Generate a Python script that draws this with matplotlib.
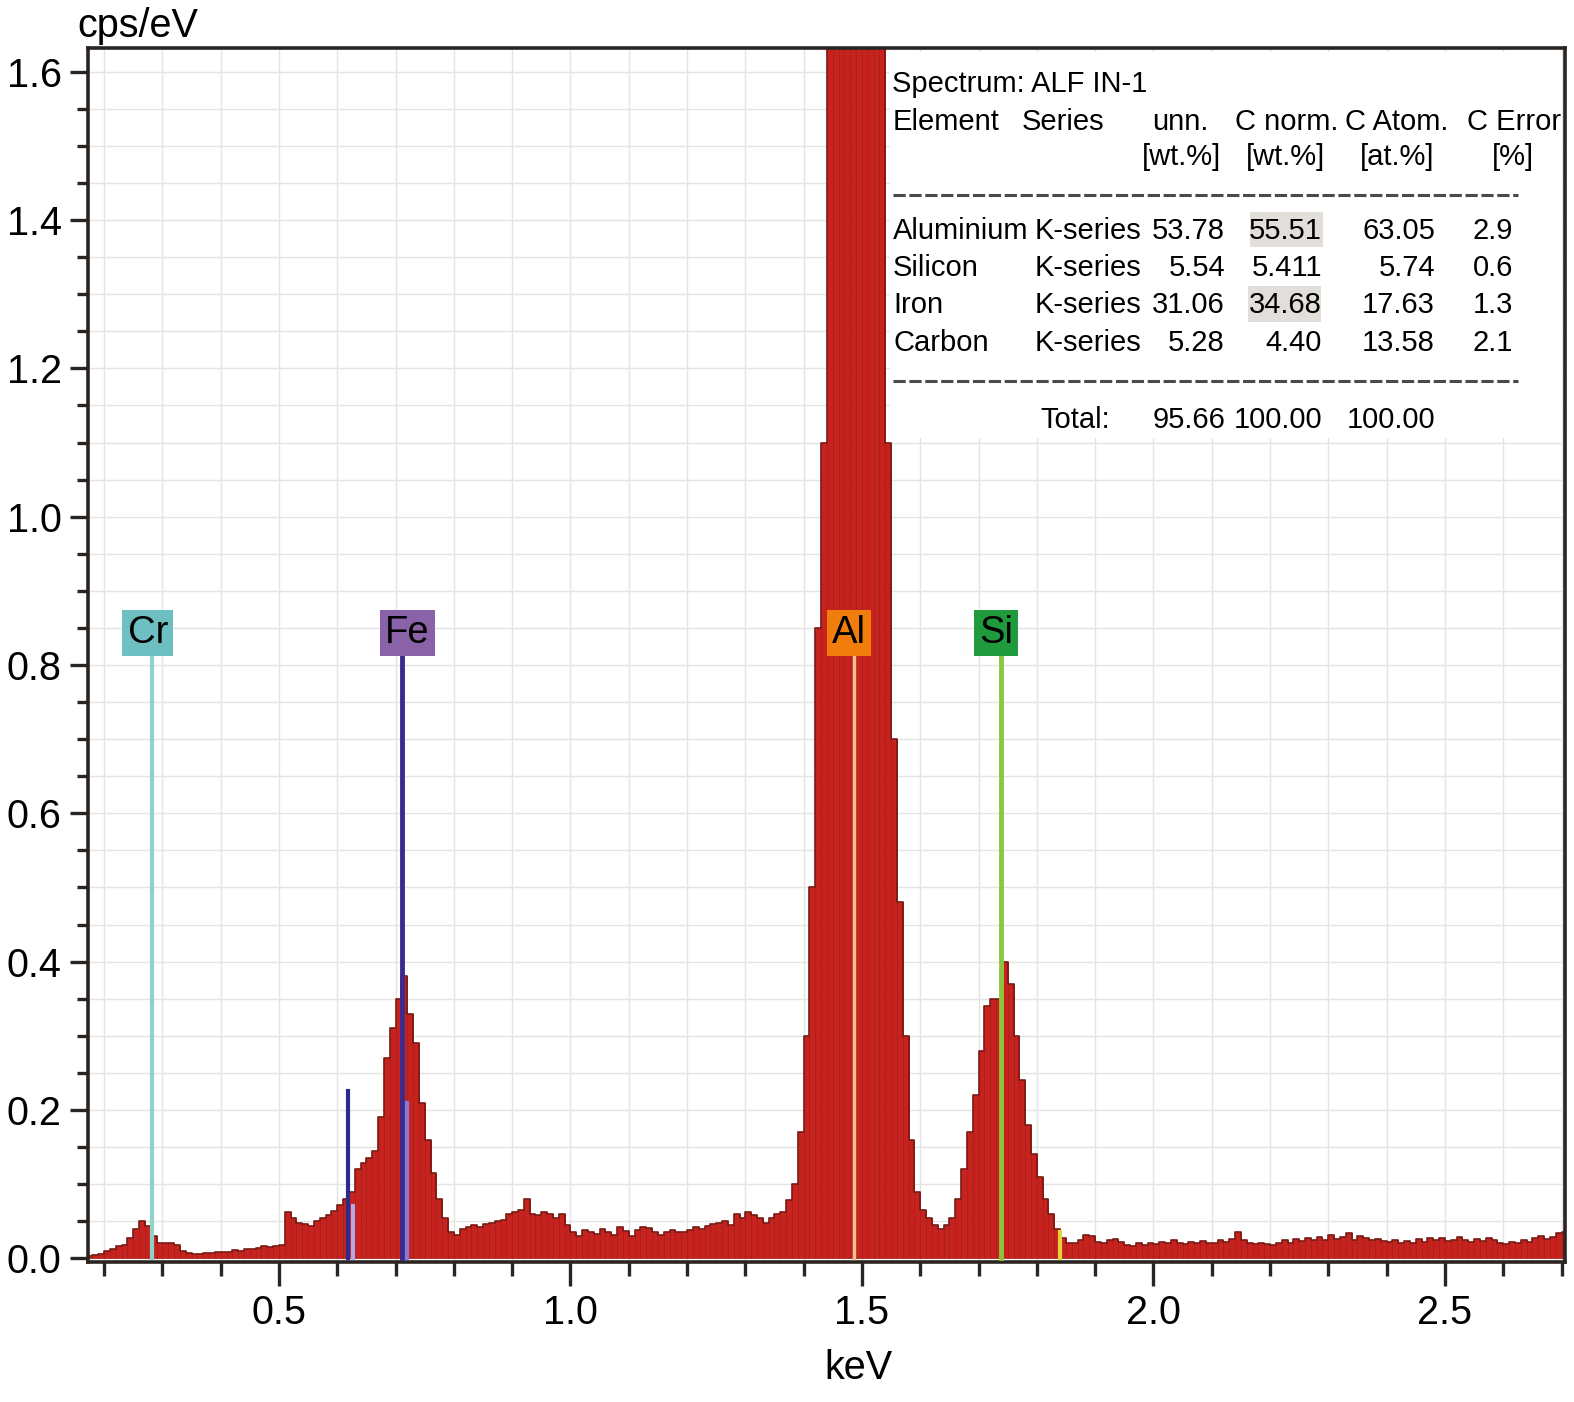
import numpy as np
import matplotlib
matplotlib.use("Agg")
import matplotlib.pyplot as plt
from matplotlib.patches import Rectangle
from matplotlib.lines import Line2D

plt.rcParams['font.family'] = ['Liberation Sans', 'DejaVu Sans']

# ---------------- data ----------------
BIN = 0.01
# spectrum counts (cps/eV), 0.01 keV bins, each segment with its start energy
low_start = 0.17
low_counts = [0.003, 0.004, 0.006, 0.010, 0.013, 0.016, 0.018, 0.028, 0.040, 0.050,
              0.044, 0.030, 0.020, 0.021, 0.021, 0.018, 0.010, 0.007, 0.006, 0.006,
              0.007, 0.007, 0.008, 0.009, 0.009, 0.011, 0.010, 0.013, 0.012, 0.014,
              0.016, 0.015, 0.017, 0.018,                       # 0.17 - 0.50
              0.063, 0.055, 0.047, 0.046, 0.043, 0.050, 0.054, 0.058, 0.064, 0.072,
              0.080, 0.090, 0.120, 0.128, 0.135, 0.145, 0.190, 0.270, 0.310, 0.350,
              0.380, 0.330, 0.290, 0.210, 0.160, 0.115, 0.080, 0.055, 0.035, 0.032,
              0.040, 0.042, 0.045, 0.042, 0.046, 0.048, 0.050, 0.052, 0.060, 0.062,
              0.065, 0.080, 0.060, 0.058, 0.063, 0.060, 0.055, 0.060, 0.045]  # 0.51 - 0.99
mid_start = 1.00
mid_counts = [0.035, 0.030, 0.038, 0.035, 0.033, 0.040, 0.036, 0.032, 0.042, 0.037,
              0.030, 0.038, 0.042, 0.041, 0.035, 0.032, 0.036, 0.038, 0.036, 0.035,
              0.038, 0.042, 0.040, 0.044, 0.046, 0.048, 0.050, 0.045, 0.060, 0.055,
              0.062, 0.058, 0.054, 0.048, 0.055, 0.060, 0.062]  # 1.00 - 1.36
peak_start = 1.37
peak_counts = [0.078, 0.100, 0.170, 0.300, 0.500, 0.850, 1.100,
               1.700, 1.700, 1.700, 1.700, 1.700, 1.700, 1.700, 1.700, 1.700, 1.700,
               1.100, 0.700, 0.480, 0.300, 0.160, 0.090, 0.065, 0.055, 0.045, 0.040,
               0.045, 0.055, 0.080, 0.120, 0.170, 0.220, 0.280, 0.340, 0.350, 0.350,
               0.400, 0.370, 0.300, 0.240, 0.180, 0.140, 0.110, 0.080, 0.060, 0.040,
               0.028, 0.020, 0.020, 0.025, 0.032, 0.030, 0.022, 0.020]  # 1.37 - 1.91
tail_start = 1.92
tail_counts = [0.024, 0.026, 0.022, 0.018, 0.016, 0.020, 0.018, 0.021, 0.019, 0.022,
               0.020, 0.024, 0.021, 0.019, 0.022, 0.020, 0.023, 0.021, 0.020, 0.024,
               0.022, 0.026, 0.035, 0.024, 0.020, 0.019, 0.020, 0.019, 0.018, 0.020,
               0.024, 0.021, 0.026, 0.023, 0.027, 0.024, 0.029, 0.025, 0.032, 0.026,
               0.029, 0.034, 0.025, 0.030, 0.027, 0.024, 0.026, 0.023, 0.022, 0.025,
               0.021, 0.023, 0.020, 0.026, 0.022, 0.028, 0.024, 0.027, 0.023, 0.025,
               0.029, 0.024, 0.022, 0.026, 0.023, 0.028, 0.024, 0.021, 0.019, 0.022,
               0.020, 0.025, 0.022, 0.027, 0.030, 0.026, 0.029, 0.034, 0.036]  # 1.92 - 2.70

# element markers
elements = ['Cr', 'Fe', 'Al', 'Si']
element_line_keV = [0.282, 0.711, 1.486, 1.739]
element_label_keV = [0.275, 0.720, 1.478, 1.730]
element_box_colors = ['#6dbfc2', '#8a62a8', '#f07d0c', '#1f9a3d']
element_line_colors = ['#8fd2c9', '#3b2b8c', '#f6c28c', '#8cc63e']
label_level = 0.843
line_top = 0.815

# secondary (minor) line markers
minor_keV = [0.618, 0.627, 0.720, 1.840]
minor_height = [0.225, 0.07, 0.21, 0.035]
minor_colors = ['#2c2a8a', '#b9a6ea', '#8a7ad8', '#e3d23a']

# quantification table
tbl_elements = ['Aluminium', 'Silicon', 'Iron', 'Carbon']
tbl_series = ['K-series'] * 4
tbl_unn = ['53.78', '5.54', '31.06', '5.28']
tbl_norm = ['55.51', '5.411', '34.68', '4.40']
tbl_atom = ['63.05', '5.74', '17.63', '13.58']
tbl_err = ['2.9', '0.6', '1.3', '2.1']
tbl_total = ['95.66', '100.00', '100.00']

x_major = [0.5, 1.0, 1.5, 2.0, 2.5]
y_major = [0.0, 0.2, 0.4, 0.6, 0.8, 1.0, 1.2, 1.4, 1.6]

# ---------------- figure ----------------
W, H = 1574, 1402
fig = plt.figure(figsize=(W / 100, H / 100), dpi=100)

def fx(x):
    return x / W

def fy(y):
    return 1 - y / H

ax = fig.add_axes([fx(88), fy(1262), fx(1565) - fx(88), fy(48) - fy(1262)])
ax.set_xlim(0.1724, 2.706)
ax.set_ylim(-0.005, 1.632)

def seg(start, counts):
    return start + BIN * np.arange(len(counts)), np.asarray(counts)

E = []
C = []
for s, c in [(low_start, low_counts), (mid_start, mid_counts),
             (peak_start, peak_counts), (tail_start, tail_counts)]:
    e, v = seg(s, c)
    E.append(e)
    C.append(v)
E = np.concatenate(E)
C = np.concatenate(C)

ax.bar(E, C, width=BIN, align='edge', color='#c8221e', edgecolor='#a01c17',
       linewidth=0.5, zorder=2)
ax.step(np.append(E, E[-1] + BIN), np.append(C, C[-1]), where='post',
        color='#7a1812', lw=1.2, zorder=2.5)

# element lines and labels
for el, le, lb, bc, lc in zip(elements, element_line_keV, element_label_keV,
                              element_box_colors, element_line_colors):
    lw = 3.5 if el in ('Fe', 'Si') else 3
    if el == 'Al':
        lw = 2.5
    ax.plot([le, le], [0, line_top], color=lc, lw=lw, zorder=3)
    ax.text(lb, label_level, el, fontsize=27.5, ha='center', va='center', color='black',
            zorder=5,
            bbox=dict(boxstyle='square,pad=0.14', facecolor=bc, edgecolor='none'))

for e, h, c in zip(minor_keV, minor_height, minor_colors):
    ax.plot([e, e], [0, h], color=c, lw=3, zorder=3)

# grid & ticks
ax.set_xticks(x_major)
ax.set_xticklabels([f'{v:.1f}' for v in x_major])
ax.set_xticks(np.round(np.arange(0.2, 2.71, 0.1), 2), minor=True)
ax.set_yticks(y_major)
ax.set_yticklabels([f'{v:.1f}' for v in y_major])
ax.set_yticks(np.round(np.arange(0.0, 1.61, 0.05), 2), minor=True)
ax.grid(which='both', color='#e4e4e4', lw=1.0)
ax.set_axisbelow(True)

ax.tick_params(axis='y', which='major', direction='out', length=13, width=2.4,
               labelsize=28.5, pad=6, color='#2b2522')
ax.tick_params(axis='y', which='minor', direction='out', length=8, width=2.4,
               color='#2b2522')
ax.tick_params(axis='x', which='major', direction='out', length=17, width=2.4,
               labelsize=28.5, pad=6, color='#2b2522')
ax.tick_params(axis='x', which='minor', direction='out', length=10, width=2.4,
               color='#2b2522')
for sp in ax.spines.values():
    sp.set_linewidth(2.6)
    sp.set_color('#2b2522')

fig.text(fx(77), fy(26), 'cps/eV', fontsize=28.5, ha='left', va='center')
fig.text(fx(858), fy(1368), 'keV', fontsize=28.5, ha='center', va='center')

# ---------------- table ----------------
ax.add_patch(Rectangle((fx(890), fy(438)), fx(1562) - fx(890), fy(52) - fy(438),
                       transform=fig.transFigure, facecolor='white', edgecolor='none',
                       zorder=1))
for (x0, y0, x1, y1) in [(1250, 212, 1323, 247), (1248, 286, 1321, 322)]:
    ax.add_patch(Rectangle((fx(x0), fy(y1)), fx(x1) - fx(x0), fy(y0) - fy(y1),
                           transform=fig.transFigure, facecolor='#e2deda',
                           edgecolor='none', zorder=4))

fs = 21
def t(x, y, s, ha='left'):
    fig.text(fx(x), fy(y), s, fontsize=fs, ha=ha, va='center', zorder=6)

t(892, 84, 'Spectrum: ALF IN-1')
t(893, 122, 'Element')
t(1022, 122, 'Series')
t(1208, 122, 'unn.', ha='right')
t(1235, 122, 'C norm.')
t(1345, 122, 'C Atom.')
t(1467, 122, 'C Error')
t(1181, 157, '[wt.%]', ha='center')
t(1286, 157, '[wt.%]', ha='center')
t(1397, 157, '[at.%]', ha='center')
t(1513, 157, '[%]', ha='center')

for yy in (195, 381):
    fig.add_artist(Line2D([fx(893), fx(1518)], [fy(yy), fy(yy)], color='#4a4a4a',
                          lw=2.2, linestyle=(0, (4, 1.2)), zorder=6))

row_y = [231, 268, 305, 343]
for i, yy in enumerate(row_y):
    t(893, yy, tbl_elements[i])
    t(1035, yy, tbl_series[i])
    t(1225, yy, tbl_unn[i], ha='right')
    t(1322, yy, tbl_norm[i], ha='right')
    t(1435, yy, tbl_atom[i], ha='right')
    t(1513, yy, tbl_err[i], ha='right')

t(1040, 420, 'Total:')
t(1225, 420, tbl_total[0], ha='right')
t(1322, 420, tbl_total[1], ha='right')
t(1435, 420, tbl_total[2], ha='right')

fig.savefig('out.png', dpi=100, facecolor='white')
